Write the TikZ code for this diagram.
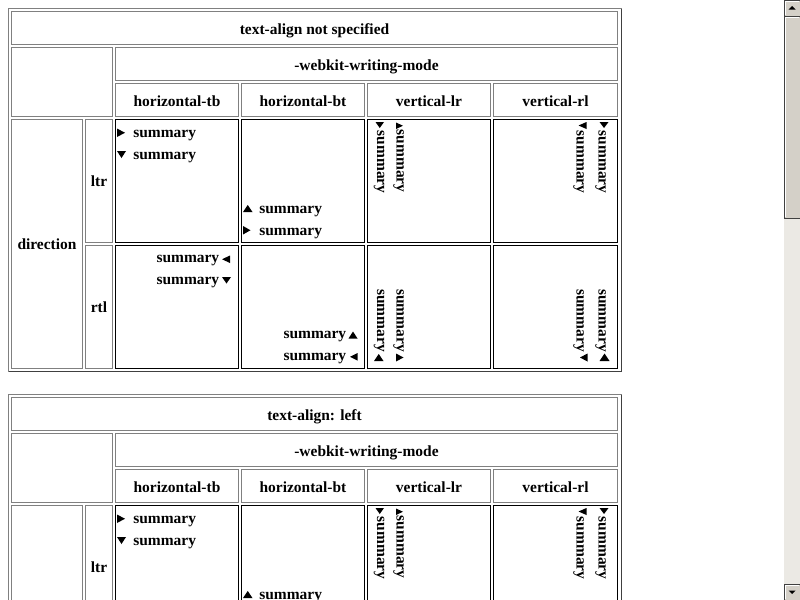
\documentclass[tikz,border=0pt]{standalone}
\usepackage{fontspec}
\setmainfont{Liberation Serif}
\definecolor{hgray}{HTML}{808080}
\definecolor{odark}{HTML}{404040}
\definecolor{face}{HTML}{D4D0C8}
\definecolor{track}{HTML}{EBE9E4}
\tikzset{
  hcell/.style={draw=hgray, line width=0.75pt, inner sep=0pt, outer sep=0pt},
  dcell/.style={draw=black, line width=0.9pt, inner sep=0pt, outer sep=0pt},
  lbl/.style={font=\bfseries\fontsize{11.6}{13}\selectfont, inner sep=0pt, anchor=base},
  sumL/.style={lbl, anchor=base west},
  sumR/.style={lbl, anchor=base east},
  vsumT/.style={lbl, rotate=-90, anchor=base west},
  vsumB/.style={lbl, rotate=-90, anchor=base east},
  tri/.style={fill=black},
  pxline/.style={line width=0.75pt}
}
\newcommand\tcell[6]{\node[#6, minimum width={(#4-#2)*0.75pt}, minimum height={(#5-#3)*0.75pt}] (#1) at ({(#2+#4)/2},{(#3+#5)/2}) {};}
\newcommand\trR[4]{\fill[tri] (#1,#2) -- (#3,{(#2+#4)/2}) -- (#1,#4) -- cycle;}
\newcommand\trL[4]{\fill[tri] (#3,#2) -- (#1,{(#2+#4)/2}) -- (#3,#4) -- cycle;}
\newcommand\trD[4]{\fill[tri] (#1,#2) -- (#3,#2) -- ({(#1+#3)/2},#4) -- cycle;}
\newcommand\trU[4]{\fill[tri] (#1,#4) -- (#3,#4) -- ({(#1+#3)/2},#2) -- cycle;}
% table frame, cells and column headers
\newcommand\drawframe[2]{%
  \draw[pxline, hgray] (8.5,371.5) -- (8.5,8.5) -- (621.5,8.5);
  \draw[pxline, odark] (621.5,8.5) -- (621.5,371.5) -- (8.5,371.5);
  \tcell{#1title}{11.5}{11.5}{617.5}{44.5}{hcell}
  \tcell{#1empty}{11.5}{47.5}{112.5}{116.5}{hcell}
  \tcell{#1wm}{115.5}{47.5}{617.5}{80.5}{hcell}
  \tcell{#1ca}{115.5}{83.5}{238.5}{116.5}{hcell}
  \tcell{#1cb}{241.5}{83.5}{364.5}{116.5}{hcell}
  \tcell{#1cc}{367.5}{83.5}{490.5}{116.5}{hcell}
  \tcell{#1cd}{493.5}{83.5}{617.5}{116.5}{hcell}
  \tcell{#1dir}{11.5}{119.5}{82.5}{368.5}{hcell}
  \tcell{#1ltr}{85.5}{119.5}{112.5}{242.5}{hcell}
  \tcell{#1rtl}{85.5}{245.5}{112.5}{368.5}{hcell}
  \tcell{#1da}{115.5}{119.5}{238.5}{242.5}{dcell}
  \tcell{#1db}{241.5}{119.5}{364.5}{242.5}{dcell}
  \tcell{#1dc}{367.5}{119.5}{490.5}{242.5}{dcell}
  \tcell{#1dd}{493.5}{119.5}{617.5}{242.5}{dcell}
  \tcell{#1ea}{115.5}{245.5}{238.5}{368.5}{dcell}
  \tcell{#1eb}{241.5}{245.5}{364.5}{368.5}{dcell}
  \tcell{#1ec}{367.5}{245.5}{490.5}{368.5}{dcell}
  \tcell{#1ed}{493.5}{245.5}{617.5}{368.5}{dcell}
  \node[lbl] (#1titletxt) at (314.5,34) {#2};
  \node[lbl] (#1wmtxt) at (366.5,70) {-webkit-writing-mode};
  \node[lbl] (#1catxt) at (177,106) {horizontal-tb};
  \node[lbl] (#1cbtxt) at (303,106) {horizontal-bt};
  \node[lbl] (#1cctxt) at (429,106) {vertical-lr};
  \node[lbl] (#1cdtxt) at (555.5,106) {vertical-rl};
  \node[lbl] (#1ltrtxt) at (99,186.5) {ltr};
}
% visible top part of the ltr row
\newcommand\drawltrtop[1]{%
  \trR{117}{128.5}{125}{137}
  \node[sumL] (#1s1) at (133,137) {summary};
  \trD{117}{151}{126}{158}
  \node[sumL] (#1s2) at (133,159) {summary};
  \trU{243}{205}{252.5}{212}
  \node[sumL] (#1s3) at (259,213) {summary};
  \trD{375.5}{122}{384}{128}
  \node[vsumT] (#1v1) at (377,130.5) {summary};
  \trR{396}{122.5}{403}{129}
  \node[vsumT] (#1v2) at (396.5,129.5) {summary};
  \trL{578.5}{122}{586.5}{129}
  \node[vsumT] (#1v3) at (576.5,130.5) {summary};
  \trD{599.5}{122}{608.5}{128}
  \node[vsumT] (#1v4) at (598.5,130.5) {summary};
}
\begin{document}
\begin{tikzpicture}[x=0.75pt,y=-0.75pt]
\useasboundingbox (0,0) rectangle (800,600);
\fill[white] (0,0) rectangle (800,600);
\begin{scope}
\clip (0,0) rectangle (800,600);
% ---- table 1 ----
\drawframe{a}{text-align not specified}
\drawltrtop{a}
\node[lbl] (adirtxt) at (47,249.5) {direction};
\node[lbl] (artltxt) at (99,312.5) {rtl};
\trR{243}{226}{250.5}{234.5}
\node[sumL] (as4) at (259,235) {summary};
\node[sumR] (as5) at (219.5,262) {summary};
\trL{222}{255.5}{230}{263}
\node[sumR] (as6) at (219.5,284) {summary};
\trD{222}{277}{231}{283.5}
\node[sumR] (as7) at (346.5,338) {summary};
\trU{348.5}{331.5}{357.5}{338.5}
\node[sumR] (as8) at (346.5,360) {summary};
\trL{350}{353}{357.5}{360.5}
\node[vsumB] (av5) at (377,352) {summary};
\trU{374}{354}{383.5}{361}
\node[vsumB] (av6) at (396.5,352) {summary};
\trR{396}{353.5}{403.5}{361.5}
\node[vsumB] (av7) at (576.5,352) {summary};
\trL{580}{353.5}{587.5}{361.5}
\node[vsumB] (av8) at (598.5,352) {summary};
\trU{599.5}{353.5}{609.5}{361}
% ---- table 2 (only its top is in view) ----
\begin{scope}[yshift=-289.5pt]
\drawframe{b}{text-align: left}
\drawltrtop{b}
\end{scope}
\end{scope}
% ---- scrollbar ----
\fill[track] (784,0) rectangle (800,600);
\node[fill=face, draw=odark, line width=0.75pt, minimum width=12pt, minimum height=12pt, inner sep=0pt] (sbup) at (792,8) {};
\fill[black] (788.5,9.5) -- (795.5,9.5) -- (792,6) -- cycle;
\node[fill=face, draw=odark, line width=0.75pt, minimum width=12pt, minimum height=151.5pt, inner sep=0pt] (sbthumb) at (792,117) {};
\draw[pxline, white] (785.5,216.5) -- (785.5,17.5) -- (798.5,17.5);
\draw[pxline, white] (785.5,14.5) -- (785.5,1.5) -- (798.5,1.5);
\node[fill=face, draw=odark, line width=0.75pt, minimum width=12pt, minimum height=12pt, inner sep=0pt] (sbdown) at (792,592) {};
\draw[pxline, white] (785.5,598.5) -- (785.5,585.5) -- (798.5,585.5);
\fill[black] (788.5,590.5) -- (795.5,590.5) -- (792,594) -- cycle;
\end{tikzpicture}
\end{document}
